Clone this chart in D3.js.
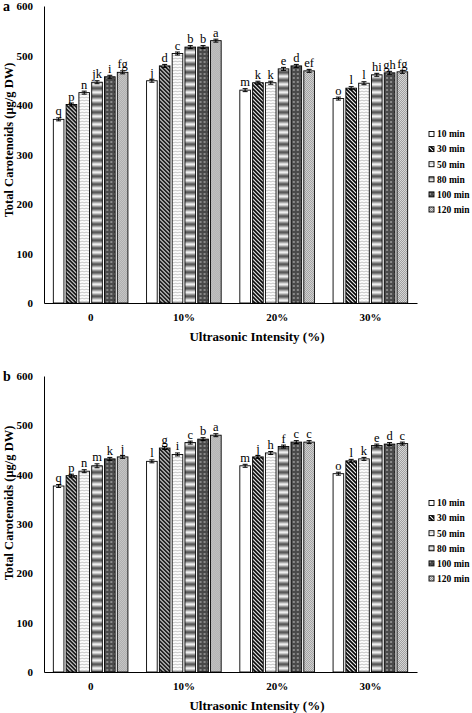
<!DOCTYPE html>
<html><head><meta charset="utf-8">
<script src="https://cdn.jsdelivr.net/npm/d3@7"></script>
<style>body{margin:0;background:#fff}svg{display:block}text{font-family:"Liberation Serif","Times New Roman",serif;fill:#000}</style>
</head><body><svg id="c" width="472" height="713"></svg>
<script>
const categories = ["0", "10%", "20%", "30%"];
const seriesNames = ["10 min", "30 min", "50 min", "80 min", "100 min", "120 min"];
const yTicks = [0, 100, 200, 300, 400, 500, 600];

// Panel a values (rows = categories, columns = series)
const valuesA = [
  [371, 401, 425, 446, 457, 466],
  [449, 479, 504, 517, 517, 530],
  [430, 445, 445, 473, 479, 469],
  [413, 434, 444, 461, 465, 467]
];
const lettersA = [
  ["q", "p", "n", "jk", "i", "fg"],
  ["j", "d", "c", "b", "b", "a"],
  ["m", "k", "k", "e", "d", "ef"],
  ["o", "l", "l", "hi", "gh", "fg"]
];
// Panel b values
const valuesB = [
  [377, 398, 407, 418, 432, 436],
  [427, 454, 441, 465, 472, 480],
  [418, 436, 444, 457, 466, 466],
  [402, 428, 432, 459, 462, 463]
];
const lettersB = [
  ["q", "p", "n", "m", "k", "j"],
  ["l", "g", "i", "c", "b", "a"],
  ["m", "j", "h", "f", "c", "c"],
  ["o", "l", "k", "e", "d", "c"]
];
const errA = [
  [3, 3, 3, 3, 3, 3], [3, 3, 3, 3, 3, 3], [3, 3, 3, 3, 3, 3], [3, 3, 3, 3, 3, 3]
];
const errB = [
  [3, 3, 3, 4, 3, 3], [3, 3, 3, 3, 3, 3], [3, 3, 3, 3, 3, 3], [3, 3, 3, 3, 3, 3]
];

const svg = d3.select("#c");
svg.append("rect").attr("width", 472).attr("height", 713).attr("fill", "#fff");
const defs = svg.append("defs");

function pat(id, w, h) {
  return defs.append("pattern").attr("id", id).attr("patternUnits", "userSpaceOnUse")
    .attr("width", w).attr("height", h);
}
let p;
p = pat("p0", 4, 4); p.append("rect").attr("width", 4).attr("height", 4).attr("fill", "#fff");
p = pat("p1", 4, 4);
p.append("rect").attr("width", 4).attr("height", 4).attr("fill", "#fff");
p.append("path").attr("d", "M-1,-1 L5,5 M-1,3 L1,5 M3,-1 L5,1").attr("stroke", "#000").attr("stroke-width", 1.7);
p = pat("p2", 4, 3);
p.append("rect").attr("width", 4).attr("height", 3).attr("fill", "#fff");
p.append("path").attr("d", "M0,1.5 Q1,0.5 2,1.5 T4,1.5").attr("stroke", "#b0b0b0").attr("stroke-width", 0.8).attr("fill", "none");
p = pat("p3", 10, 8);
const bandCols = ["#5a5a5a", "#7a7a7a", "#a8a8a8", "#d8d8d8", "#eeeeee", "#c8c8c8", "#969696", "#6a6a6a"];
bandCols.forEach((c, i) => p.append("rect").attr("y", i).attr("width", 10).attr("height", 1).attr("fill", c));
p = pat("p4", 4, 4);
p.append("rect").attr("width", 4).attr("height", 4).attr("fill", "#4a4a4a");
p.append("rect").attr("x", 1).attr("y", 1).attr("width", 2).attr("height", 2).attr("fill", "#8a8a8a");
p = pat("p5", 2, 2);
p.append("rect").attr("width", 2).attr("height", 2).attr("fill", "#dadada");
p.append("rect").attr("width", 1).attr("height", 1).attr("fill", "#9a9a9a");
p.append("rect").attr("x", 1).attr("y", 1).attr("width", 1).attr("height", 1).attr("fill", "#9a9a9a");

const fills = seriesNames.map((s, i) => `url(#p${i})`);
const color = d3.scaleOrdinal().domain(seriesNames).range(fills);

function panel(cfg) {
  const g = svg.append("g");
  const x0 = d3.scaleBand().domain(categories).range([44, 417]).paddingInner(0.2).paddingOuter(0.1);
  const x1 = d3.scaleBand().domain(seriesNames).range([0, x0.bandwidth()]).paddingInner(0.17);
  const y = d3.scaleLinear().domain([0, 600]).range([cfg.y0, cfg.y1]);

  const ya = g.append("g").attr("transform", "translate(44,0)")
    .call(d3.axisLeft(y).tickValues(yTicks).tickSize(0).tickPadding(11));
  ya.select(".domain").attr("stroke", "#000").attr("stroke-width", 1);
  ya.selectAll("text").attr("font-size", 11).attr("font-weight", "bold").attr("fill", "#000")
    .attr("font-family", "Liberation Serif");

  categories.forEach((cat, ci) => {
    const gg = g.append("g").attr("transform", `translate(${x0(cat)},0)`);
    seriesNames.forEach((s, si) => {
      const v = cfg.values[ci][si];
      const bx = x1(s), bw = x1.bandwidth();
      gg.append("rect").attr("x", bx).attr("y", y(v)).attr("width", bw).attr("height", y(0) - y(v))
        .attr("fill", color(s)).attr("stroke", "#000").attr("stroke-width", 0.9);
      const e = cfg.err[ci][si];
      const cx = bx + bw / 2;
      gg.append("path").attr("d", `M${cx},${y(v + e)}V${y(v - e)}M${cx - 2.5},${y(v + e)}H${cx + 2.5}M${cx - 2.5},${y(v - e)}H${cx + 2.5}`)
        .attr("stroke", "#000").attr("stroke-width", 1);
      gg.append("text").attr("x", cx).attr("y", y(v + e) - 2.5).attr("text-anchor", "middle")
        .attr("font-size", 12.5).attr("fill", "#000").style("fill", "#000").text(cfg.letters[ci][si]);
    });
  });

  const xa = g.append("g").attr("transform", `translate(0,${cfg.y0})`)
    .call(d3.axisBottom(x0).tickSize(0).tickPadding(10));
  xa.select(".domain").attr("stroke", "#000").attr("stroke-width", 1.2);
  xa.selectAll("text").attr("font-size", 11).attr("font-weight", "bold").attr("fill", "#000")
    .attr("font-family", "Liberation Serif");

  g.append("text").attr("x", 257).attr("y", cfg.y0 + 38).attr("text-anchor", "middle")
    .attr("font-size", 13).attr("font-weight", "bold").text("Ultrasonic Intensity (%)");
  g.append("text").attr("transform", `translate(13,${cfg.titleY}) rotate(-90)`).attr("text-anchor", "middle")
    .attr("font-size", 12.5).attr("font-weight", "bold").text("Total Carotenoids (μg/g DW)");
  g.append("text").attr("x", 3).attr("y", cfg.y1 + 5).attr("font-size", 14).attr("font-weight", "bold").text(cfg.label);

  const lg = g.append("g");
  seriesNames.forEach((s, i) => {
    const ly = cfg.legY + i * 15.1;
    lg.append("rect").attr("x", 429).attr("y", ly - 2.5).attr("width", 5).attr("height", 5)
      .attr("fill", color(s)).attr("stroke", "#000").attr("stroke-width", 0.9);
    lg.append("text").attr("x", 437).attr("y", ly + 3.3).attr("font-size", 9.5).attr("font-weight", "bold").text(s);
  });
}

panel({ y0: 303, y1: 6, values: valuesA, letters: lettersA, err: errA, label: "a", titleY: 140, legY: 134 });
panel({ y0: 672, y1: 376, values: valuesB, letters: lettersB, err: errB, label: "b", titleY: 503, legY: 503 });
</script></body></html>
